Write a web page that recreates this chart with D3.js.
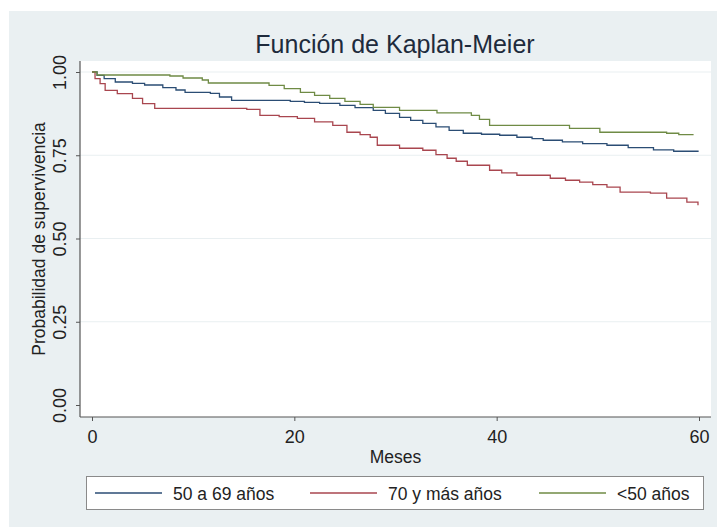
<!DOCTYPE html>
<html>
<head>
<meta charset="utf-8">
<script src="https://cdn.jsdelivr.net/npm/d3@7"></script>
<style>
  body { margin: 0; background: #fff; }
  svg text { font-family: "Liberation Sans", Arial, Helvetica, sans-serif; }
</style>
</head>
<body>
<div id="chart"></div>
<script>
// Kaplan-Meier step points [mes, supervivencia]
const serie50a69 = [[0,1.000],[0.5,0.990],[1.2,0.980],[2.3,0.970],[4.0,0.966],[5.2,0.961],[7.0,0.953],[8.3,0.946],[9.2,0.939],
  [11.7,0.936],[12.6,0.925],[13.8,0.915],[19.6,0.912],[21.0,0.909],[22.5,0.906],[24.5,0.900],[26.0,0.893],[27.8,0.885],
  [29.0,0.876],[30.4,0.864],[31.5,0.855],[32.7,0.846],[34.0,0.835],[35.3,0.825],[36.7,0.816],[38.5,0.813],[40.3,0.810],
  [42.0,0.804],[43.5,0.800],[44.6,0.795],[46.5,0.790],[48.5,0.785],[50.9,0.780],[53.0,0.773],[55.5,0.766],[57.5,0.762],[59.9,0.760]];
const serie70mas = [[0,1.000],[0.3,0.980],[0.8,0.965],[1.3,0.945],[2.5,0.935],[4.0,0.921],[5.0,0.905],[6.2,0.891],[15.3,0.888],
  [16.6,0.870],[18.5,0.866],[20.3,0.861],[22.0,0.850],[23.8,0.840],[25.2,0.819],[26.5,0.812],[27.5,0.804],[28.2,0.780],
  [30.4,0.771],[32.7,0.765],[34.0,0.752],[35.1,0.741],[36.0,0.732],[37.1,0.720],[39.3,0.705],[40.5,0.697],[42.0,0.690],
  [45.3,0.681],[46.8,0.675],[48.2,0.669],[49.5,0.662],[50.9,0.654],[52.2,0.639],[55.2,0.636],[56.8,0.621],[58.8,0.609],[59.9,0.600]];
const serieMenos50 = [[0,1.000],[0.5,0.991],[7.7,0.988],[9.0,0.982],[10.9,0.976],[11.5,0.967],[16.1,0.967],[17.5,0.960],
  [19.0,0.950],[20.6,0.939],[22.0,0.930],[23.5,0.921],[25.0,0.912],[26.5,0.903],[27.8,0.894],[30.4,0.885],[34.1,0.877],
  [36.9,0.877],[37.5,0.870],[38.3,0.858],[39.3,0.840],[47.2,0.831],[50.2,0.819],[56.8,0.816],[58.0,0.812],[59.4,0.810]];

const grupos = ["50 a 69 años", "70 y más años", "<50 años"];
const colores = ["#2b4d74", "#a9464f", "#6f8b45"];
const xTicks = [0, 20, 40, 60];
const yTicks = [0, 0.25, 0.5, 0.75, 1];

const W = 717, H = 527;
const plot = { left: 80, right: 711, top: 61, bottom: 417 };

const svg = d3.select("#chart").append("svg")
    .attr("width", W)
    .attr("height", H);

// outer background
svg.append("rect")
    .attr("x", 9).attr("y", 11)
    .attr("width", W - 9).attr("height", H - 11)
    .attr("fill", "#eaf0f2");

svg.append("rect")
    .attr("x", plot.left).attr("y", plot.top)
    .attr("width", plot.right - plot.left).attr("height", plot.bottom - plot.top)
    .attr("fill", "#fff");

const x = d3.scaleLinear().domain([0, 60]).range([92, 699]);
const y = d3.scaleLinear().domain([0, 1]).range([405, 72]);

// grid
svg.append("g").selectAll("line")
    .data(yTicks.filter(d => d > 0))
    .join("line")
    .attr("x1", plot.left).attr("x2", plot.right)
    .attr("y1", d => y(d)).attr("y2", d => y(d))
    .attr("stroke", "#e9eff1")
    .attr("stroke-width", 1);

// title
svg.append("text")
    .attr("x", 395).attr("y", 53)
    .attr("text-anchor", "middle")
    .style("font-size", "25px")
    .attr("fill", "#1e2b3c")
    .text("Función de Kaplan-Meier");

// axes
const yAxis = svg.append("g")
    .attr("transform", `translate(${plot.left},0)`)
    .call(d3.axisLeft(y).tickValues(yTicks).tickFormat(d3.format(".2f")).tickSize(4).tickSizeOuter(0));
yAxis.select(".domain").remove();
yAxis.selectAll(".tick line").attr("stroke", "#555");
yAxis.selectAll(".tick text")
    .attr("x", 0).attr("dy", 0)
    .attr("text-anchor", "middle")
    .attr("transform", "translate(-14,0) rotate(-90)")
    .attr("fill", "#222")
    .style("font-size", "18px");

const xAxis = svg.append("g")
    .attr("transform", `translate(0,${plot.bottom})`)
    .call(d3.axisBottom(x).tickValues(xTicks).tickSize(4).tickPadding(9).tickSizeOuter(0));
xAxis.select(".domain").remove();
xAxis.selectAll(".tick line").attr("stroke", "#555");
xAxis.selectAll(".tick text")
    .attr("fill", "#222")
    .style("font-size", "18px");

svg.append("line")
    .attr("x1", plot.left).attr("x2", plot.left)
    .attr("y1", plot.top).attr("y2", plot.bottom)
    .attr("stroke", "#555").attr("stroke-width", 1.2);
svg.append("line")
    .attr("x1", plot.left).attr("x2", plot.right)
    .attr("y1", plot.bottom).attr("y2", plot.bottom)
    .attr("stroke", "#555").attr("stroke-width", 1.2);

// axis titles
svg.append("text")
    .attr("transform", `translate(45,${(plot.top + plot.bottom) / 2}) rotate(-90)`)
    .attr("text-anchor", "middle")
    .attr("fill", "#222")
    .style("font-size", "17.5px")
    .text("Probabilidad de supervivencia");

svg.append("text")
    .attr("x", (plot.left + plot.right) / 2).attr("y", 463)
    .attr("text-anchor", "middle")
    .attr("fill", "#222")
    .style("font-size", "17.5px")
    .text("Meses");

// curves
const line = d3.line()
    .x(d => x(d[0]))
    .y(d => y(d[1]))
    .curve(d3.curveStepAfter);

const series = [serie50a69, serie70mas, serieMenos50];
svg.append("g").selectAll("path")
    .data(series)
    .join("path")
    .attr("d", line)
    .attr("fill", "none")
    .attr("stroke", (d, i) => colores[i])
    .attr("stroke-width", 1.3);

// legend
svg.append("rect")
    .attr("x", 86.5).attr("y", 476.5)
    .attr("width", 617).attr("height", 33)
    .attr("fill", "#fff")
    .attr("stroke", "#8a8a8a");

const legendX = [95, 310, 539];
const leg = svg.append("g").selectAll("g")
    .data(grupos)
    .join("g")
    .attr("transform", (d, i) => `translate(${legendX[i]},493)`);
leg.append("line")
    .attr("x1", 0).attr("x2", 67)
    .attr("stroke", (d, i) => colores[i])
    .attr("stroke-width", 1.3);
leg.append("text")
    .attr("x", 78).attr("y", 7)
    .attr("fill", "#222")
    .style("font-size", "17.5px")
    .text(d => d);
</script>
</body>
</html>
